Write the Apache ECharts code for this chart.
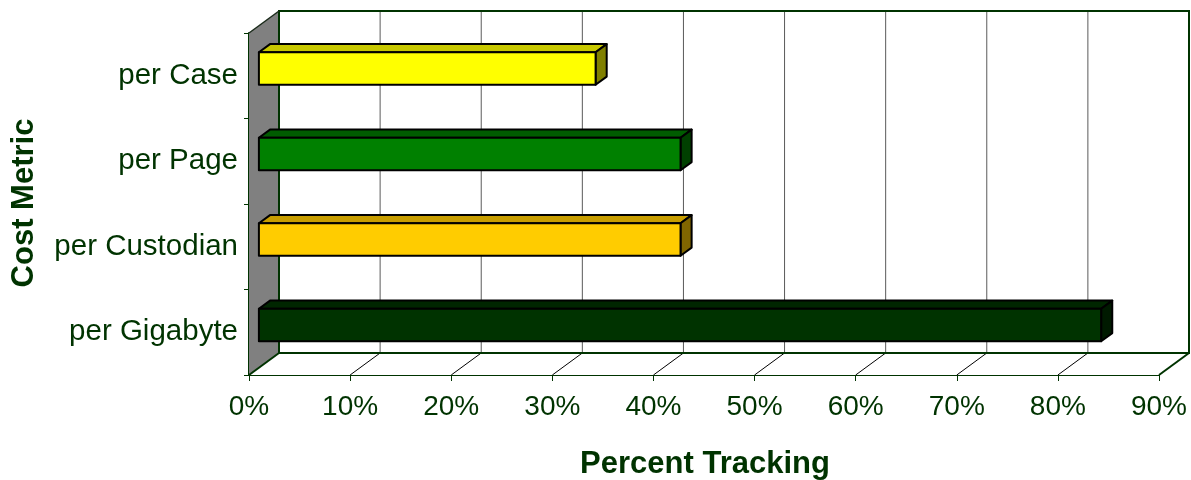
<!DOCTYPE html>
<html><head><meta charset="utf-8">
<script src="https://cdn.jsdelivr.net/npm/echarts@6/dist/echarts.min.js"></script>
<style>html,body{margin:0;padding:0;background:#fff}#c{width:1191px;height:480px}</style>
</head><body><div id="c"></div>
<script>
// ---- data ----
const categories = ['per Gigabyte', 'per Custodian', 'per Page', 'per Case'];
const percentTracking = [83.3, 41.7, 41.7, 33.3];
const xTickValues = [0, 10, 20, 30, 40, 50, 60, 70, 80, 90];
const xTickLabels = ['0%', '10%', '20%', '30%', '40%', '50%', '60%', '70%', '80%', '90%'];

// ---- styles ----
const frontColors = ['#003300', '#FFCC00', '#008000', '#FFFF00'];
const topColors   = ['#002600', '#C89E00', '#005C00', '#C8C800'];
const sideColors  = ['#001A00', '#806600', '#004000', '#808000'];
const GREEN = '#003300';
const FONT = "'Liberation Sans', Arial, Helvetica, sans-serif";
const DX = 30, DY = -22;      // depth vector
const F0 = 0.33, F1 = 0.70;   // bar depth span

const chart = echarts.init(document.getElementById('c'), null, {renderer: 'canvas'});

function renderWalls(params, api) {
  const band = api.size([0, 1])[1];
  const c0 = api.coord([0, 0]);
  const cTop = api.coord([0, categories.length - 1]);
  const yB = c0[1] + band / 2;
  const yT = cTop[1] - band / 2;
  const xL = c0[0];
  const xR = api.coord([xTickValues[xTickValues.length - 1], 0])[0];
  const children = [];
  children.push({type: 'polygon', shape: {points: [[xL + DX, yT + DY], [xR + DX, yT + DY], [xR + DX, yB + DY], [xL + DX, yB + DY]]},
    style: {fill: '#fff', stroke: null}});
  children.push({type: 'polygon', shape: {points: [[xL, yB], [xR, yB], [xR + DX, yB + DY], [xL + DX, yB + DY]]},
    style: {fill: '#fff', stroke: null}});
  children.push({type: 'polygon', shape: {points: [[xL, yT], [xL + DX, yT + DY], [xL + DX, yB + DY], [xL, yB]]},
    style: {fill: '#808080', stroke: null}});
  for (let i = 1; i < xTickValues.length - 1; i++) {
    const x = api.coord([xTickValues[i], 0])[0];
    children.push({type: 'line', shape: {x1: x + DX, y1: yB + DY, x2: x + DX, y2: yT + DY},
      style: {stroke: '#5a5a5a', lineWidth: 1}});
    children.push({type: 'line', shape: {x1: x, y1: yB, x2: x + DX, y2: yB + DY},
      style: {stroke: '#000', lineWidth: 1}});
  }
  const gs = {stroke: GREEN, lineWidth: 2, fill: null};
  children.push({type: 'polyline', shape: {points: [[xL + DX, yB + DY], [xL + DX, yT + DY], [xR + DX, yT + DY], [xR + DX, yB + DY], [xL + DX, yB + DY]]}, style: gs});
  children.push({type: 'polyline', shape: {points: [[xL, yB], [xL + DX, yB + DY]]}, style: gs});
  children.push({type: 'polyline', shape: {points: [[xR, yB], [xR + DX, yB + DY]]}, style: gs});
  children.push({type: 'polyline', shape: {points: [[xL, yT], [xL + DX, yT + DY]]}, style: {stroke: '#1a2a1a', lineWidth: 1.5, fill: null}});
  return {type: 'group', children: children};
}

function renderBar(params, api) {
  const v = api.value(0), cat = api.value(1);
  const band = api.size([0, 1])[1];
  const p0 = api.coord([0, cat]);
  const p1 = api.coord([v, cat]);
  const h = band * 0.38;
  const ox = DX * F0, oy = DY * F0;
  const dx = DX * (F1 - F0), dy = DY * (F1 - F0);
  const x0 = p0[0] + ox, x1 = p1[0] + ox;
  const yc = p0[1] + oy;
  const yt = yc - h / 2, yb = yc + h / 2;
  const i = params.dataIndex;
  const st = {stroke: '#000', lineWidth: 2, lineJoin: 'round'};
  return {type: 'group', children: [
    {type: 'polygon', shape: {points: [[x0, yt], [x1, yt], [x1 + dx, yt + dy], [x0 + dx, yt + dy]]},
      style: Object.assign({fill: topColors[i]}, st)},
    {type: 'polygon', shape: {points: [[x1, yt], [x1 + dx, yt + dy], [x1 + dx, yb + dy], [x1, yb]]},
      style: Object.assign({fill: sideColors[i]}, st)},
    {type: 'rect', shape: {x: x0, y: yt, width: x1 - x0, height: h},
      style: Object.assign({fill: frontColors[i]}, st)}
  ]};
}

chart.setOption({
  animation: false,
  backgroundColor: '#fff',
  grid: {left: 249, right: 32, top: 33, bottom: 105, containLabel: false},
  xAxis: {
    type: 'value', min: 0, max: 90, interval: 10,
    axisLine: {show: true, lineStyle: {color: GREEN, width: 2}},
    axisTick: {show: true, length: 6, lineStyle: {color: GREEN, width: 1}},
    splitLine: {show: false},
    axisLabel: {color: GREEN, fontSize: 28, fontFamily: FONT, margin: 18,
      formatter: function (val) { return xTickLabels[xTickValues.indexOf(val)]; }}
  },
  yAxis: {
    type: 'category', data: categories,
    axisLine: {show: true, lineStyle: {color: GREEN, width: 2}},
    axisTick: {show: true, length: 5, lineStyle: {color: GREEN, width: 1}},
    splitLine: {show: false},
    axisLabel: {color: GREEN, fontSize: 29.5, fontFamily: FONT, margin: 11}
  },
  series: [
    {type: 'custom', clip: false, z: 1, renderItem: renderWalls, data: [[0, 0]], encode: {x: 0, y: 1}, silent: true},
    {type: 'custom', clip: false, z: 3, renderItem: renderBar,
      data: percentTracking.map(function (v, i) { return [v, i]; }), encode: {x: 0, y: 1}}
  ],
  graphic: [
    {type: 'text', x: 705, y: 464, style: {text: 'Percent Tracking', align: 'center', verticalAlign: 'middle',
      font: "bold 31px " + FONT, fill: GREEN}},
    {type: 'text', x: 24, y: 203, rotation: Math.PI / 2, style: {text: 'Cost Metric', align: 'center', verticalAlign: 'middle',
      font: "bold 31px " + FONT, fill: GREEN}}
  ]
});
</script></body></html>
